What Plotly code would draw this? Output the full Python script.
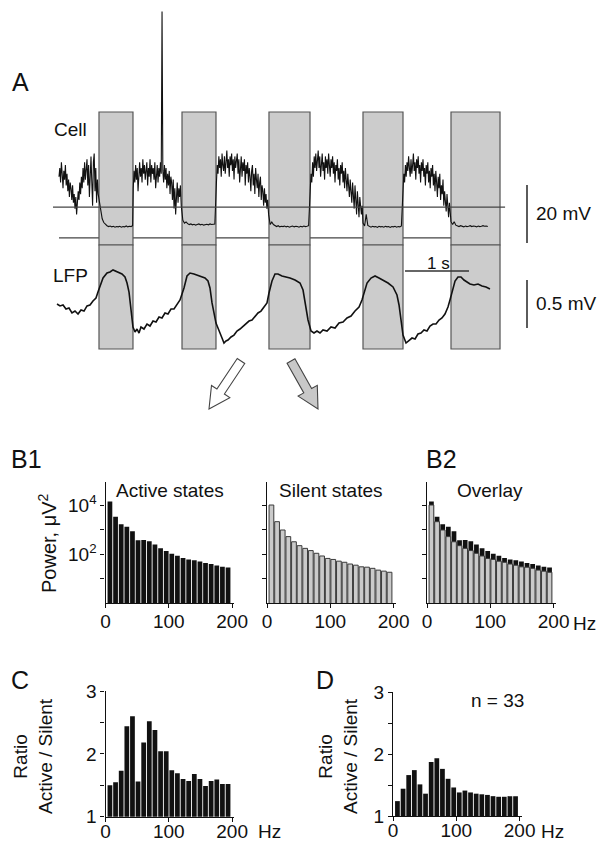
import plotly.graph_objects as go

FONT = "Liberation Sans, Arial, Helvetica, sans-serif"
INK = "#111111"
W, H = 598, 844


def px(x):
    return x / W


def py(y):
    return 1 - y / H


# ---------------- Panel A: intracellular (Cell) and LFP traces ----------------
# membrane potential, stored per state as (start s, sample interval s, mV samples)
CELL_SEGMENTS = [
    (0.0, 0.0125, [  # active 1
        -53, -50, -55, -48, -52, -57, -51, -54, -49, -56,
        -52, -58, -54, -60, -55, -57, -61, -56, -62, -59,
        -64, -60, -66, -62, -58, -61, -55, -59, -53, -57,
        -50, -55, -48, -54, -51, -47, -56, -49, -60, -52,
        -46, -55, -63, -48, -45, -58, -50, -62, -54, -59]),
    (0.625, 0.025, [  # silent 1
        -61, -65, -67.5, -68.8, -69.5, -69.9, -70.2, -70, -70.3, -70.1, -70.4,
        -70.2, -70.3, -70.1, -70.4, -70.2, -70.3, -70, -70.3, -70.1, -70.2, -69.9]),
    (1.16, 0.0125, [  # active 2, with one action potential
        -57, -51, -55, -49, -54, -50, -58, -52, -48, -53,
        -50, -55, -47, -52, -49, -54, -51, -48, -56, -50,
        -53, -47, -55, -49, -52, -50, -54, -48, -57, -51,
        -49, -55, -50, -53, -48, -52, 4, -51, -55, -49,
        -54, -50, -57, -52, -56, -51, -59, -53, -55, -61,
        -54, -64, -57, -66, -58, -55, -62, -57, -60, -56]),
    (1.91, 0.025, [  # silent 2
        -63, -68, -69, -68.6, -69.2, -69.5, -69.3, -69.6, -69.4, -69.7, -69.5,
        -69.3, -69.6, -69.4, -69.7, -69.5, -69.4, -69.6, -69.3, -69.5, -69.4, -69.3]),
    (2.46, 0.0125, [  # active 3
        -55, -49, -52, -46, -50, -47, -53, -45, -49, -51,
        -46, -52, -48, -44, -50, -47, -53, -46, -49, -45,
        -51, -47, -54, -46, -50, -48, -45, -52, -47, -55,
        -49, -46, -53, -48, -51, -47, -56, -49, -52, -48,
        -55, -50, -53, -58, -51, -49, -56, -52, -59, -50,
        -54, -57, -52, -60, -55, -53, -61, -56, -58, -63,
        -57, -62, -59, -64, -61]),
    (3.275, 0.025, [  # silent 3
        -66, -69.5, -68.6, -69.5, -70, -70.2, -69.9, -70.3, -70.1, -70.2, -70, -70.3, -70.1,
        -70.4, -70.2, -70, -70.3, -70.1, -70.2, -70.4, -70.1, -70.3, -70, -70.2, -70.1, -69.9]),
    (3.925, 0.0125, [  # active 4
        -58, -52, -55, -48, -53, -46, -50, -45, -51, -47,
        -44, -50, -46, -53, -47, -45, -51, -48, -54, -46,
        -50, -47, -52, -45, -49, -53, -47, -50, -46, -52,
        -48, -55, -49, -51, -47, -54, -50, -56, -49, -52,
        -48, -55, -51, -57, -50, -53, -58, -52, -55, -60,
        -54, -57, -62, -55, -59, -64, -56, -60, -66, -58,
        -62, -67, -60, -64, -66, -63]),
    (4.75, 0.025, [  # silent 4
        -69, -70, -66, -69.8, -70.2, -70.4, -70.1, -70.3, -70.2, -70.5, -70.1, -70.3, -70.2,
        -70.4, -70.1, -70.3, -70.2, -70.5, -70.2, -70.3, -70.1, -70.4, -70.2, -70.3, -70]),
    (5.375, 0.0125, [  # active 5
        -57, -52, -55, -49, -53, -48, -51, -46, -50, -53,
        -47, -52, -49, -45, -51, -48, -54, -47, -50, -46,
        -52, -49, -55, -48, -51, -47, -53, -50, -56, -49,
        -52, -48, -55, -51, -57, -50, -53, -49, -56, -52,
        -58, -51, -55, -60, -53, -57, -52, -61, -56, -59,
        -54, -63, -58, -61, -65, -59, -64, -67, -62, -68]),
    (6.125, 0.025, [  # silent 5
        -68.5, -69.5, -68.5, -69.7, -70, -70.2, -69.9, -70.1, -70.3, -70, -70.2, -70.1,
        -69.9, -70.2, -70, -70.1, -70.3, -70, -70.2, -70.1, -69.9, -70.1, -70, -70.2]),
]

SILENT_START_S = [0.625, 1.922, 3.281, 4.75, 6.125]
SILENT_END_S = [1.156, 2.453, 3.922, 5.375, 6.891]
REF_UPPER_MV = -63.5
REF_LOWER_MV = -74.1

LFP_T = [
    -0.031, 0.016, 0.063, 0.109, 0.156, 0.203, 0.250, 0.297, 0.344, 0.391, 0.438,
    0.484, 0.531, 0.578, 0.609, 0.641, 0.688, 0.750, 0.797, 0.844, 0.922, 0.984,
    1.031, 1.063, 1.094, 1.125, 1.156, 1.188, 1.219, 1.250, 1.281, 1.328, 1.375,
    1.422, 1.469, 1.516, 1.563, 1.609, 1.656, 1.703, 1.750, 1.797, 1.844, 1.891,
    1.922, 1.953, 2.000, 2.047, 2.109, 2.156, 2.219, 2.281, 2.328, 2.359, 2.391,
    2.422, 2.453, 2.484, 2.516, 2.547, 2.578, 2.609, 2.641, 2.688, 2.734, 2.781,
    2.828, 2.875, 2.922, 2.969, 3.016, 3.063, 3.109, 3.156, 3.203, 3.250, 3.281,
    3.328, 3.375, 3.422, 3.484, 3.547, 3.609, 3.688, 3.766, 3.813, 3.844, 3.891,
    3.938, 3.984, 4.031, 4.078, 4.125, 4.188, 4.250, 4.313, 4.375, 4.438, 4.500,
    4.563, 4.625, 4.688, 4.734, 4.766, 4.813, 4.875, 4.938, 5.000, 5.063, 5.141,
    5.219, 5.281, 5.313, 5.344, 5.375, 5.422, 5.469, 5.516, 5.563, 5.609, 5.656,
    5.703, 5.750, 5.797, 5.844, 5.891, 5.938, 5.984, 6.031, 6.078, 6.109, 6.141,
    6.188, 6.234, 6.281, 6.328, 6.375, 6.422, 6.484, 6.547, 6.609, 6.672, 6.734,
]
LFP_MV = [
    0.010, -0.010, 0.000, -0.042, -0.031, -0.083, -0.063, -0.094, -0.052, -0.063, -0.010,
    0.000, 0.042, 0.073, 0.135, 0.188, 0.281, 0.333, 0.344, 0.365, 0.344, 0.323,
    0.292, 0.229, 0.135, -0.083, -0.229, -0.281, -0.250, -0.292, -0.229, -0.250, -0.198,
    -0.219, -0.167, -0.177, -0.125, -0.135, -0.083, -0.094, -0.042, -0.042, 0.010, 0.052,
    0.115, 0.177, 0.302, 0.333, 0.323, 0.313, 0.292, 0.281, 0.250, 0.177, 0.021,
    -0.104, -0.188, -0.240, -0.302, -0.344, -0.396, -0.375, -0.365, -0.333, -0.313, -0.271,
    -0.250, -0.219, -0.198, -0.167, -0.156, -0.115, -0.083, -0.063, -0.021, 0.021, 0.125,
    0.250, 0.323, 0.323, 0.302, 0.292, 0.281, 0.260, 0.229, 0.156, 0.021, -0.156,
    -0.271, -0.292, -0.271, -0.292, -0.260, -0.271, -0.229, -0.240, -0.188, -0.177, -0.135,
    -0.115, -0.063, -0.021, 0.052, 0.135, 0.229, 0.281, 0.302, 0.281, 0.260, 0.229,
    0.188, 0.104, 0.000, -0.156, -0.313, -0.396, -0.365, -0.344, -0.354, -0.302, -0.292,
    -0.260, -0.271, -0.219, -0.198, -0.198, -0.156, -0.135, -0.094, -0.021, 0.052, 0.125,
    0.250, 0.292, 0.292, 0.260, 0.240, 0.219, 0.208, 0.219, 0.198, 0.188, 0.167,
]

# ---------------- Panels B-D: LFP spectra ----------------
FREQ_HZ = [7.0, 15.9, 24.8, 33.7, 42.6, 51.4, 60.3, 69.2, 78.1, 87.0, 95.9,
           104.7, 113.6, 122.5, 131.4, 140.3, 149.2, 158.0, 166.9, 175.8, 184.7, 193.6]
ACTIVE_POWER = [13800, 3310, 1660, 1290, 851, 363, 372, 331, 245, 170, 132,
                102, 85, 69, 60, 56, 49, 43, 39, 34, 30, 28]
SILENT_POWER = [10000, 2090, 955, 513, 316, 219, 170, 138, 107, 83, 66,
                60, 51, 46, 39, 35, 30, 29, 26, 22, 20, 18]
RATIO_CELL = [1.50, 1.55, 1.73, 2.44, 2.60, 1.56, 2.18, 2.52, 2.38, 2.04, 2.04,
              1.74, 1.69, 1.60, 1.57, 1.68, 1.60, 1.49, 1.57, 1.59, 1.52, 1.52]
RATIO_MEAN = [1.24, 1.44, 1.66, 1.74, 1.51, 1.36, 1.87, 1.93, 1.76, 1.60, 1.46,
              1.38, 1.41, 1.38, 1.36, 1.35, 1.34, 1.32, 1.31, 1.31, 1.32, 1.32]
N_CELLS = 33

SCALE_CELL_MV = 20
SCALE_LFP_MV = 0.5
SCALE_TIME_S = 1

cell_t, cell_mv = [], []
for t0, dt, values in CELL_SEGMENTS:
    cell_t += [t0 + i * dt for i in range(len(values))]
    cell_mv += values

CELL_DOMAIN = [py(260), py(0)]
CELL_RANGE = [-81.724, 7.931]


def cell_paper(mv):
    frac = (mv - CELL_RANGE[0]) / (CELL_RANGE[1] - CELL_RANGE[0])
    return CELL_DOMAIN[0] + frac * (CELL_DOMAIN[1] - CELL_DOMAIN[0])


fig = go.Figure()

# Cell trace
fig.add_trace(go.Scatter(x=cell_t, y=cell_mv, mode="lines",
                         line=dict(color=INK, width=1.1), xaxis="x", yaxis="y",
                         hoverinfo="skip"))
# upper reference level, drawn over the silent-state boxes
fig.add_trace(go.Scatter(x=[-0.094, 6.97], y=[REF_UPPER_MV, REF_UPPER_MV], mode="lines",
                         line=dict(color="#444", width=1.2), xaxis="x", yaxis="y",
                         hoverinfo="skip"))
# LFP trace
fig.add_trace(go.Scatter(x=LFP_T, y=LFP_MV, mode="lines",
                         line=dict(color=INK, width=1.6), xaxis="x", yaxis="y7",
                         hoverinfo="skip"))

# scale bars
bar_t = 7.3125
bar_top = -55.86
fig.add_trace(go.Scatter(x=[bar_t, bar_t], y=[bar_top, bar_top - SCALE_CELL_MV], mode="lines",
                         line=dict(color="#333", width=1.6), xaxis="x", yaxis="y",
                         hoverinfo="skip"))
fig.add_trace(go.Scatter(x=[bar_t, bar_t], y=[0.26, 0.26 - SCALE_LFP_MV], mode="lines",
                         line=dict(color="#333", width=1.6), xaxis="x", yaxis="y7",
                         hoverinfo="skip"))
fig.add_trace(go.Scatter(x=[5.406, 5.406 + SCALE_TIME_S], y=[0.354, 0.354], mode="lines",
                         line=dict(color="#333", width=1.4), xaxis="x", yaxis="y7",
                         hoverinfo="skip"))

# B1 active, B1 silent, B2 overlay
BAR_W = 7.5
fig.add_trace(go.Bar(x=FREQ_HZ, y=ACTIVE_POWER, width=BAR_W, marker=dict(color=INK, line_width=0),
                     xaxis="x2", yaxis="y2", hoverinfo="skip"))
fig.add_trace(go.Bar(x=FREQ_HZ, y=SILENT_POWER, width=BAR_W,
                     marker=dict(color="#cacaca", line=dict(color="#3a3a3a", width=1)),
                     xaxis="x3", yaxis="y3", hoverinfo="skip"))
fig.add_trace(go.Bar(x=FREQ_HZ, y=ACTIVE_POWER, width=BAR_W, marker=dict(color=INK, line_width=0),
                     xaxis="x4", yaxis="y4", hoverinfo="skip"))
fig.add_trace(go.Bar(x=FREQ_HZ, y=SILENT_POWER, width=BAR_W,
                     marker=dict(color="#cacaca", line=dict(color="#3a3a3a", width=1)),
                     xaxis="x4", yaxis="y4", hoverinfo="skip"))
# C and D ratios
fig.add_trace(go.Bar(x=FREQ_HZ, y=RATIO_CELL, width=BAR_W, marker=dict(color=INK, line_width=0),
                     xaxis="x5", yaxis="y5", hoverinfo="skip"))
fig.add_trace(go.Bar(x=FREQ_HZ, y=RATIO_MEAN, width=BAR_W, marker=dict(color=INK, line_width=0),
                     xaxis="x6", yaxis="y6", hoverinfo="skip"))

tickfont = dict(family=FONT, size=19, color=INK)
axis_common = dict(showline=True, linecolor=INK, linewidth=1.3, ticks="outside", ticklen=4,
                   tickwidth=1.2, tickcolor=INK, showgrid=False, zeroline=False,
                   tickfont=tickfont, fixedrange=True, automargin=False)
hidden = dict(visible=False, fixedrange=True, showgrid=False, zeroline=False, automargin=False)
minor_ticks = dict(ticks="outside", ticklen=4, tickwidth=1.2, tickcolor=INK, showgrid=False)

b_ydom = [py(603), py(482)]
freq_axis = dict(axis_common, range=[0, 203], tickvals=[0, 100, 200], ticktext=["0", "100", "200"])
pow_axis = dict(axis_common, type="log", range=[0, 4.94], tickvals=[100, 10000],
                ticktext=["10<sup>2</sup>", "10<sup>4</sup>"],
                minor=dict(minor_ticks, tickvals=[10, 1000]), domain=b_ydom)
ratio_axis = dict(axis_common, range=[1, 3], tickvals=[1, 2, 3], ticktext=["1", "2", "3"],
                  minor=dict(minor_ticks, tickvals=[1.5, 2.5]))

fig.update_layout(
    width=W, height=H, margin=dict(l=0, r=0, t=0, b=0, pad=0), autosize=False,
    paper_bgcolor="white", plot_bgcolor="rgba(0,0,0,0)",
    showlegend=False, barmode="overlay", font=dict(family=FONT, color=INK),
    xaxis=dict(hidden, domain=[0, 1], range=[-59 / 64, (W - 59) / 64]),
    yaxis=dict(hidden, domain=CELL_DOMAIN, range=CELL_RANGE),
    yaxis7=dict(hidden, domain=[py(360), py(250)], range=[-0.5729, 0.5729], anchor="x"),
    xaxis2=dict(freq_axis, domain=[px(105.5), px(234)], anchor="y2", ticklabelstandoff=-3),
    yaxis2=dict(pow_axis, anchor="x2"),
    xaxis3=dict(freq_axis, domain=[px(267), px(395.5)], anchor="y3", ticklabelstandoff=-3),
    yaxis3=dict(pow_axis, anchor="x3", showticklabels=False),
    xaxis4=dict(freq_axis, domain=[px(427), px(555.5)], anchor="y4", ticklabelstandoff=-3),
    yaxis4=dict(pow_axis, anchor="x4", showticklabels=False),
    xaxis5=dict(freq_axis, domain=[px(105.5), px(234)], anchor="y5", ticklabelstandoff=-7),
    yaxis5=dict(ratio_axis, domain=[py(816.7), py(691)], anchor="x5"),
    xaxis6=dict(freq_axis, domain=[px(393), px(521.5)], anchor="y6", ticklabelstandoff=-7),
    yaxis6=dict(ratio_axis, domain=[py(816), py(692)], anchor="x6"),
)

# lower reference level first, then the silent-state boxes over it
lower_y = cell_paper(REF_LOWER_MV)
shapes = [dict(type="line", xref="x", yref="paper", x0=0, x1=6.5, y0=lower_y, y1=lower_y,
               line=dict(color="#444", width=1.2), layer="below")]
for t0, t1 in zip(SILENT_START_S, SILENT_END_S):
    for ytop, ybot in ((112, 245), (245, 349)):
        shapes.append(dict(type="rect", xref="x", yref="paper", x0=t0, x1=t1,
                           y0=py(ybot), y1=py(ytop), fillcolor="#cccccc",
                           line=dict(color="#555", width=1.2), layer="below"))


def block_arrow(tail, tip, fill):
    (x0, y0), (x1, y1) = tail, tip
    dx, dy = x1 - x0, y1 - y0
    length = (dx * dx + dy * dy) ** 0.5
    ux, uy = dx / length, dy / length
    nx, ny = -uy, ux
    shaft, head, head_len = 4.5, 11, 21
    bx, by = x1 - ux * head_len, y1 - uy * head_len
    pts = [(x0 + nx * shaft, y0 + ny * shaft), (bx + nx * shaft, by + ny * shaft),
           (bx + nx * head, by + ny * head), (x1, y1),
           (bx - nx * head, by - ny * head), (bx - nx * shaft, by - ny * shaft),
           (x0 - nx * shaft, y0 - ny * shaft)]
    path = "M " + " L ".join(f"{px(a):.5f},{py(b):.5f}" for a, b in pts) + " Z"
    return dict(type="path", xref="paper", yref="paper", path=path, fillcolor=fill,
                line=dict(color="#444", width=1.1), layer="above")


shapes.append(block_arrow((241, 361), (209, 409), "white"))
shapes.append(block_arrow((291, 361), (318, 409), "#c8c8c8"))
fig.update_layout(shapes=shapes)


def label(text, x, y, size=19, xanchor="center", angle=0):
    fig.add_annotation(text=text, x=px(x), y=py(y), xref="paper", yref="paper",
                       showarrow=False, xanchor=xanchor, yanchor="middle", textangle=angle,
                       font=dict(family=FONT, size=size, color=INK))


for txt, x, y in (("A", 20, 82), ("B1", 26, 459), ("B2", 441, 459), ("C", 20, 680), ("D", 325, 680)):
    label(txt, x, y, size=25)

label("Cell", 52, 130, xanchor="left")
label("LFP", 51, 276, xanchor="left")
label(f"{SCALE_CELL_MV} mV", 534, 213, xanchor="left")
label(f"{SCALE_LFP_MV} mV", 534, 303, xanchor="left")
label(f"{SCALE_TIME_S} s", 438, 263, size=17)

label("Active states", 170, 490)
label("Silent states", 331, 490)
label("Overlay", 490, 490)
label("Power, μV<sup>2</sup>", 47, 543, size=20, angle=-90)
label("Hz", 571, 623, xanchor="left")
label("Ratio<br>Active / Silent", 33, 756, angle=-90)
label("Ratio<br>Active / Silent", 338, 756, angle=-90)
label("Hz", 256, 831, xanchor="left")
label("Hz", 539, 831, xanchor="left")
label(f"n = {N_CELLS}", 497, 700)

fig.write_html("out.html")
